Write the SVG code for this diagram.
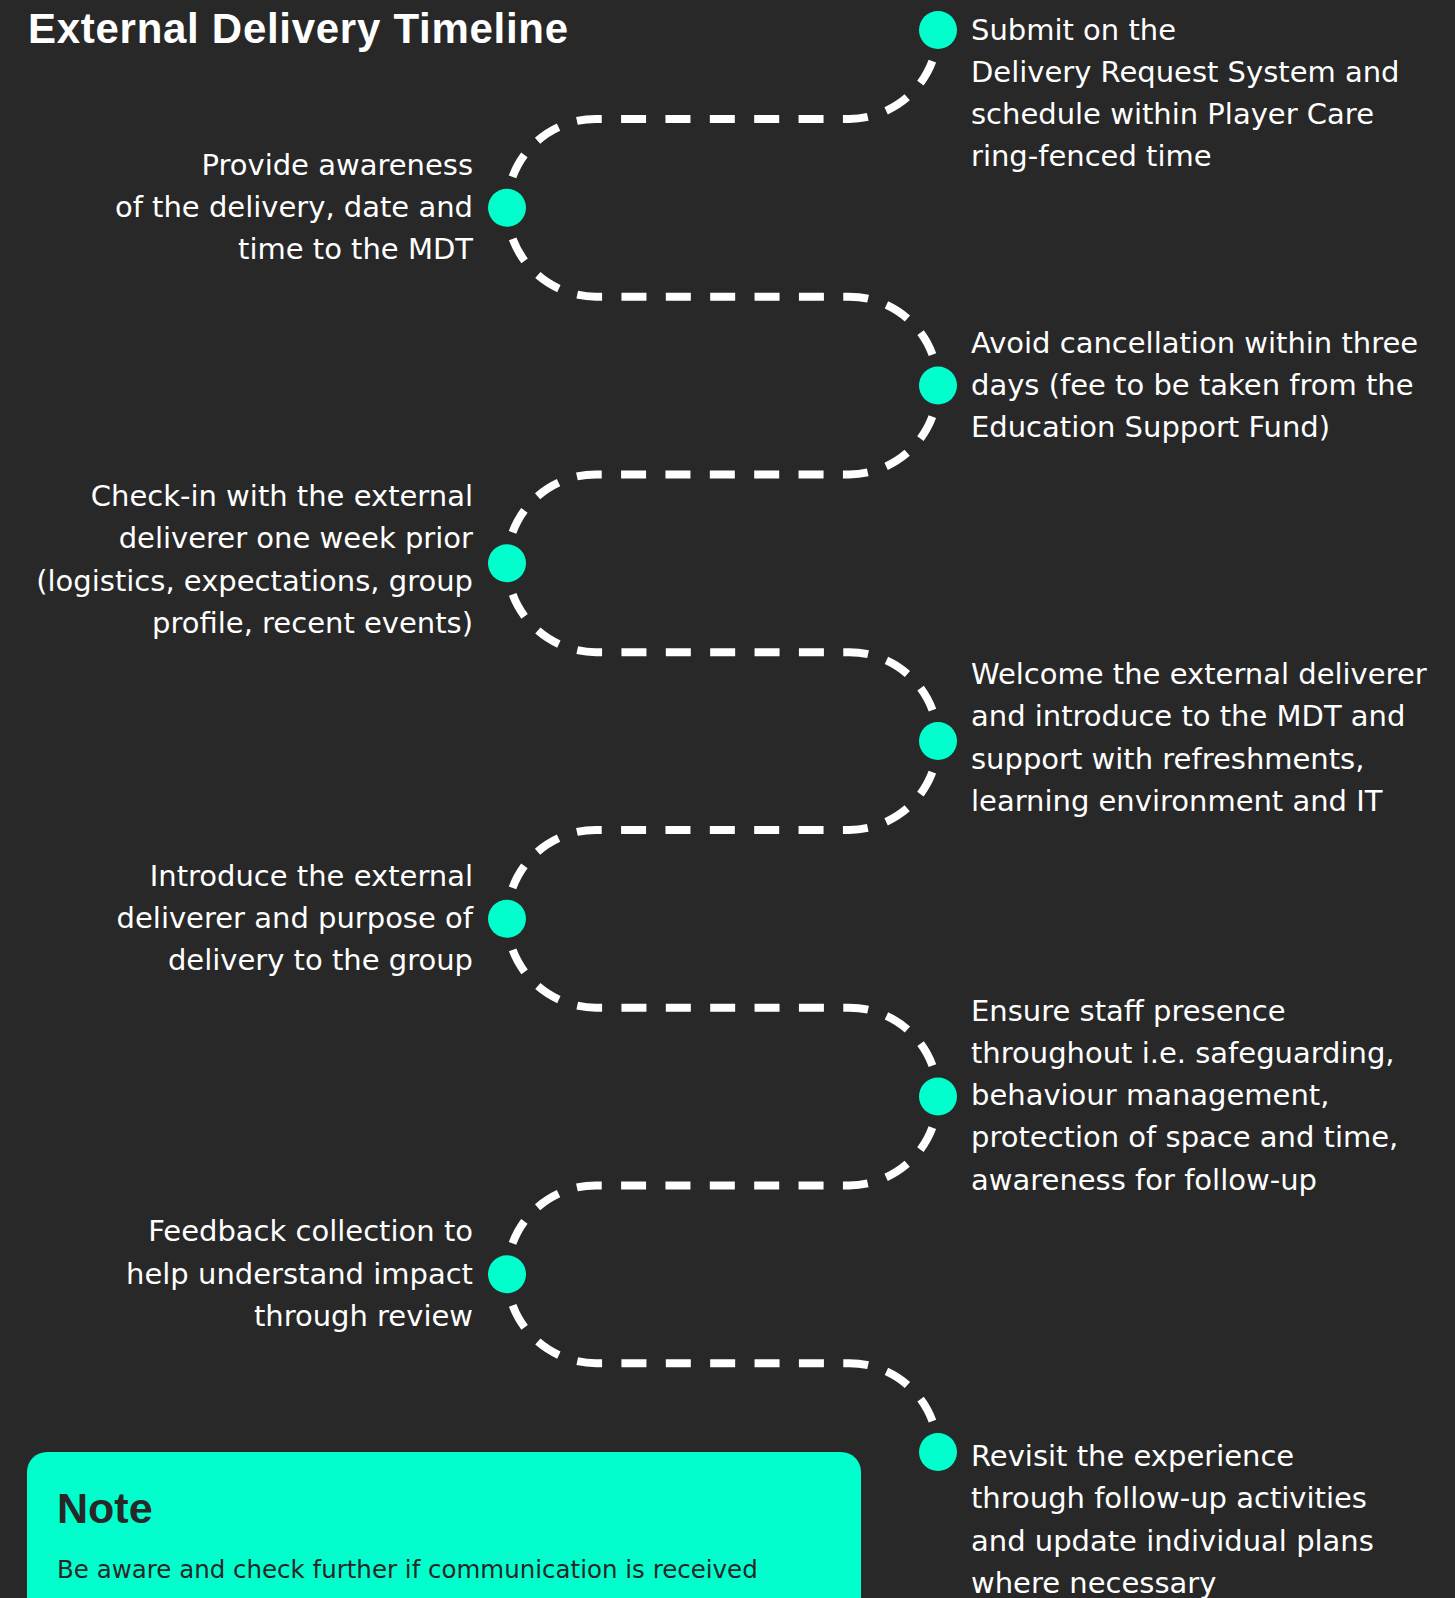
<svg xmlns="http://www.w3.org/2000/svg" width="1455" height="1598" viewBox="0 0 1455 1598">
<style>
.bg{fill:#282828}
.title{font-family:"Liberation Sans",Arial,sans-serif;font-weight:700;font-size:42px;fill:#ffffff}
.lbl{font-family:"DejaVu Sans","Liberation Sans",sans-serif;font-size:29px;fill:#ffffff}
.lft{text-anchor:end}
.dot{fill:#00ffcc}
.link{fill:none;stroke:#ffffff;stroke-width:8;stroke-dasharray:25 19.367;stroke-dashoffset:12.52}
.note{fill:#00ffcc}
.noteh{font-family:"Liberation Sans",Arial,sans-serif;font-weight:700;font-size:43px;fill:#282828}
.notet{font-family:"DejaVu Sans","Liberation Sans",sans-serif;font-size:24.5px;fill:#282828}
</style>
<rect class="bg" x="0" y="0" width="1455" height="1598"/>
<text class="title" x="28" y="42.7" textLength="540" lengthAdjust="spacing">External Delivery Timeline</text>

<g id="connectors">
<path class="link" d="M938 30 A88.875 88.875 0 0 1 849.125 118.875 H595.875 A88.875 88.875 0 0 0 507 207.75"/>
<path class="link" d="M507 207.75 A88.875 88.875 0 0 0 595.875 296.625 H849.125 A88.875 88.875 0 0 1 938 385.5"/>
<path class="link" d="M938 385.5 A88.875 88.875 0 0 1 849.125 474.375 H595.875 A88.875 88.875 0 0 0 507 563.25"/>
<path class="link" d="M507 563.25 A88.875 88.875 0 0 0 595.875 652.125 H849.125 A88.875 88.875 0 0 1 938 741"/>
<path class="link" d="M938 741 A88.875 88.875 0 0 1 849.125 829.875 H595.875 A88.875 88.875 0 0 0 507 918.75"/>
<path class="link" d="M507 918.75 A88.875 88.875 0 0 0 595.875 1007.625 H849.125 A88.875 88.875 0 0 1 938 1096.5"/>
<path class="link" d="M938 1096.5 A88.875 88.875 0 0 1 849.125 1185.375 H595.875 A88.875 88.875 0 0 0 507 1274.25"/>
<path class="link" d="M507 1274.25 A88.875 88.875 0 0 0 595.875 1363.125 H849.125 A88.875 88.875 0 0 1 938 1452"/>
</g>

<g id="step1">
<circle class="dot" cx="938" cy="30" r="19"/>
<text class="lbl"><tspan x="971" y="39.5">Submit on the</tspan><tspan x="971" dy="42.3">Delivery Request System and</tspan><tspan x="971" dy="42.3">schedule within Player Care</tspan><tspan x="971" dy="42.3">ring-fenced time</tspan></text>
</g>

<g id="step2">
<circle class="dot" cx="507" cy="207.75" r="19"/>
<text class="lbl lft"><tspan x="473" y="174.8">Provide awareness</tspan><tspan x="473" dy="42.3">of the delivery, date and</tspan><tspan x="473" dy="42.3">time to the MDT</tspan></text>
</g>

<g id="step3">
<circle class="dot" cx="938" cy="385.5" r="19"/>
<text class="lbl"><tspan x="971" y="352.5">Avoid cancellation within three</tspan><tspan x="971" dy="42.3">days (fee to be taken from the</tspan><tspan x="971" dy="42.3">Education Support Fund)</tspan></text>
</g>

<g id="step4">
<circle class="dot" cx="507" cy="563.25" r="19"/>
<text class="lbl lft"><tspan x="473" y="506">Check-in with the external</tspan><tspan x="473" dy="42.3">deliverer one week prior</tspan><tspan x="473" dy="42.3">(logistics, expectations, group</tspan><tspan x="473" dy="42.3">profile, recent events)</tspan></text>
</g>

<g id="step5">
<circle class="dot" cx="938" cy="741" r="19"/>
<text class="lbl"><tspan x="971" y="684">Welcome the external deliverer</tspan><tspan x="971" dy="42.3">and introduce to the MDT and</tspan><tspan x="971" dy="42.3">support with refreshments,</tspan><tspan x="971" dy="42.3">learning environment and IT</tspan></text>
</g>

<g id="step6">
<circle class="dot" cx="507" cy="918.75" r="19"/>
<text class="lbl lft"><tspan x="473" y="885.8">Introduce the external</tspan><tspan x="473" dy="42.3">deliverer and purpose of</tspan><tspan x="473" dy="42.3">delivery to the group</tspan></text>
</g>

<g id="step7">
<circle class="dot" cx="938" cy="1096.5" r="19"/>
<text class="lbl"><tspan x="971" y="1020.5">Ensure staff presence</tspan><tspan x="971" dy="42.3">throughout i.e. safeguarding,</tspan><tspan x="971" dy="42.3">behaviour management,</tspan><tspan x="971" dy="42.3">protection of space and time,</tspan><tspan x="971" dy="42.3">awareness for follow-up</tspan></text>
</g>

<g id="step8">
<circle class="dot" cx="507" cy="1274.25" r="19"/>
<text class="lbl lft"><tspan x="473" y="1241.3">Feedback collection to</tspan><tspan x="473" dy="42.3">help understand impact</tspan><tspan x="473" dy="42.3">through review</tspan></text>
</g>

<g id="step9">
<circle class="dot" cx="938" cy="1452" r="19"/>
<text class="lbl"><tspan x="971" y="1466">Revisit the experience</tspan><tspan x="971" dy="42.3">through follow-up activities</tspan><tspan x="971" dy="42.3">and update individual plans</tspan><tspan x="971" dy="42.3">where necessary</tspan></text>
</g>

<g id="note">
<rect class="note" x="27" y="1452" width="834" height="200" rx="20" ry="20"/>
<text class="noteh" x="57" y="1522.7">Note</text>
<text class="notet" x="57" y="1578.3">Be aware and check further if communication is received</text>
</g>
</svg>
